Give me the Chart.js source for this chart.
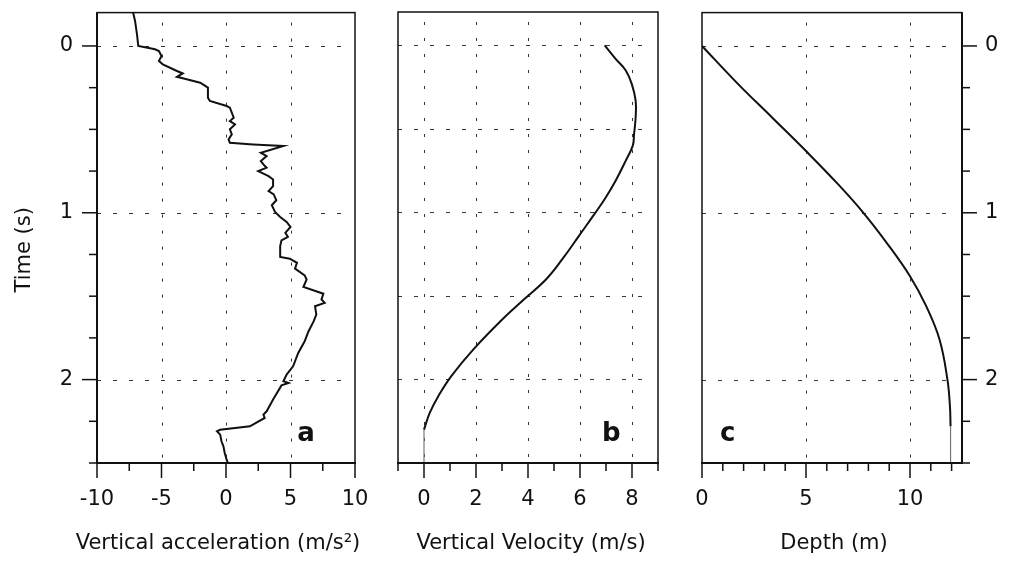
<!DOCTYPE html>
<html>
<head>
<meta charset="utf-8">
<title>Fall record: acceleration, velocity, depth</title>
<script src="https://cdn.jsdelivr.net/npm/chart.js@4.4.1/dist/chart.umd.min.js"></script>
<style>
  html, body { margin: 0; padding: 0; background: #fff; }
  #wrap { position: relative; width: 1010px; height: 562px; overflow: hidden; }
  canvas { position: absolute; top: 0; }
</style>
</head>
<body>
<div id="wrap">
  <canvas id="panelA" width="370" height="562" style="left:0px"></canvas>
  <canvas id="panelB" width="310" height="562" style="left:370px"></canvas>
  <canvas id="panelC" width="330" height="562" style="left:680px"></canvas>
</div>
<script>
// ---- values ----
// panel a: vertical acceleration (m/s2) vs time (s)
const accelTime = [-0.2, -0.15, -0.07, 0, 0.02, 0.03, 0.06, 0.09, 0.11, 0.15, 0.165, 0.185, 0.2, 0.22,
  0.25, 0.31, 0.33, 0.36, 0.37, 0.43, 0.45, 0.47, 0.5, 0.53, 0.56, 0.58, 0.59, 0.6, 0.64, 0.66,
  0.69, 0.71, 0.73, 0.75, 0.78, 0.8, 0.84, 0.87, 0.89, 0.925, 0.955, 0.995, 1.025, 1.055, 1.085,
  1.12, 1.145, 1.165, 1.2, 1.265, 1.275, 1.3, 1.335, 1.375, 1.4, 1.445, 1.485, 1.52, 1.54, 1.56,
  1.61, 1.65, 1.71, 1.77, 1.84, 1.92, 1.97, 2.01, 2.02, 2.035, 2.12, 2.19, 2.21, 2.23, 2.28,
  2.3, 2.31, 2.33, 2.37, 2.4, 2.44, 2.48, 2.5];
const accelValue = [-7.2, -7.05, -6.9, -6.8, -5.5, -5.2, -5.0, -5.2, -4.9, -3.8, -3.35, -3.8, -3.05, -2.0,
  -1.4, -1.4, -1.25, 0.05, 0.3, 0.6, 0.3, 0.7, 0.3, 0.45, 0.2, 0.3, 2.1, 4.45, 2.7, 3.15,
  2.7, 2.9, 3.15, 2.5, 3.3, 3.65, 3.65, 3.3, 3.7, 3.9, 3.55, 3.8, 4.2, 4.7, 5.0,
  4.6, 4.8, 4.3, 4.2, 4.2, 4.95, 5.5, 5.35, 6.1, 6.25, 6.0, 7.55, 7.4, 7.65, 6.9,
  7.0, 6.8, 6.4, 6.1, 5.6, 5.2, 4.7, 4.45, 4.85, 4.3, 3.65, 3.15, 2.9, 3.0, 1.85,
  -0.45, -0.7, -0.45, -0.35, -0.2, -0.1, 0.05, 0.15];

// panel b: vertical velocity (m/s) vs time (s)
const velTime = [0, 0.08, 0.15, 0.23, 0.33, 0.43, 0.53, 0.6, 0.69, 0.81, 0.91, 1.0, 1.14, 1.28,
  1.4, 1.52, 1.65, 1.82, 1.98, 2.1, 2.2, 2.3];
const velValue = [6.95, 7.37, 7.76, 7.99, 8.14, 8.14, 8.08, 8.03, 7.76, 7.37, 6.99, 6.6, 5.96, 5.32,
  4.7, 3.85, 2.95, 1.9, 1.05, 0.55, 0.22, 0.0];
const velTailTime = [2.3, 2.5];
const velTailValue = [0, 0];

// panel c: depth (m) vs time (s)
const depthTime = [0, 0.23, 0.43, 0.63, 0.83, 1.0, 1.18, 1.38, 1.56, 1.76, 2.0, 2.16, 2.28];
const depthValue = [0, 1.75, 3.38, 5.0, 6.55, 7.76, 8.88, 10.0, 10.78, 11.42, 11.8, 11.92, 11.95];
const depthTailTime = [2.28, 2.5];
const depthTailValue = [11.95, 11.95];

// tick labels, minor ticks and grid positions
const timeTicks = [0, 1, 2];
const timeMinor = [0.25, 0.5, 0.75, 1.25, 1.5, 1.75, 2.25, 2.5];
const timeGridB = [0, 0.5, 1, 1.5, 2];
const accelTicks = [-10, -5, 0, 5, 10];
const accelMinor = [-7.5, -2.5, 2.5, 7.5];
const accelGrid = [-5, 0, 5];
const velTicks = [0, 2, 4, 6, 8];
const velMinor = [-1, 1, 3, 5, 7, 9];
const depthTicks = [0, 5, 10];
const depthMinor = [1, 2, 3, 4, 6, 7, 8, 9, 11, 12];
const depthGrid = [5, 10];

const FONT = "'DejaVu Sans', sans-serif";
Chart.defaults.font.family = FONT;
Chart.defaults.font.size = 21;
Chart.defaults.color = '#111';

// turn (time, value) lists into points with time on the vertical axis
function toPoints(times, values) {
  return times.map((t, i) => ({ x: values[i], y: t }));
}

function lineSet(times, values, tension, color, width) {
  return {
    data: toPoints(times, values),
    showLine: true,
    borderColor: color,
    borderWidth: width,
    pointRadius: 0,
    tension: tension,
    fill: false
  };
}

// dotted grid, box frame, major/minor tick marks, axis titles and panel letter
const framePlugin = {
  id: 'frame',
  beforeDatasetsDraw(chart, args, o) {
    const { ctx, chartArea: a, scales: { x, y } } = chart;
    ctx.save();
    ctx.strokeStyle = '#333';
    ctx.lineWidth = 1;
    ctx.setLineDash([3, 13]);
    o.gridX.forEach(v => {
      const px = Math.round(x.getPixelForValue(v)) + 0.5;
      ctx.beginPath(); ctx.moveTo(px, a.top + 10); ctx.lineTo(px, a.bottom); ctx.stroke();
    });
    ctx.setLineDash([4, 12]);
    o.gridY.forEach(v => {
      const py = Math.round(y.getPixelForValue(v)) + 0.5;
      ctx.beginPath(); ctx.moveTo(a.left, py); ctx.lineTo(a.right - 8, py); ctx.stroke();
    });
    ctx.restore();
  },
  afterDraw(chart, args, o) {
    const { ctx, chartArea: a, scales: { x, y } } = chart;
    ctx.save();
    ctx.strokeStyle = '#111';
    ctx.lineWidth = 1.5;
    ctx.strokeRect(a.left, a.top, a.width, a.height);

    // heavier axis lines
    ctx.lineWidth = 2;
    ctx.beginPath(); ctx.moveTo(a.left - 1, a.bottom); ctx.lineTo(a.right + 1, a.bottom); ctx.stroke();
    if (o.ySide) {
      const sx = o.ySide === 'right' ? a.right : a.left;
      ctx.beginPath(); ctx.moveTo(sx, a.top); ctx.lineTo(sx, a.bottom); ctx.stroke();
    }

    // tick marks
    ctx.lineWidth = 1.5;
    const tickX = (vals, len) => vals.forEach(v => {
      const px = x.getPixelForValue(v);
      ctx.beginPath(); ctx.moveTo(px, a.bottom); ctx.lineTo(px, a.bottom + len); ctx.stroke();
    });
    tickX(o.majorX, 15);
    tickX(o.minorX, 8);
    if (o.ySide) {
      const sx = o.ySide === 'right' ? a.right : a.left;
      const dir = o.ySide === 'right' ? 1 : -1;
      const tickY = (vals, len) => vals.forEach(v => {
        const py = y.getPixelForValue(v);
        ctx.beginPath(); ctx.moveTo(sx, py); ctx.lineTo(sx + dir * len, py); ctx.stroke();
      });
      tickY(timeTicks, 15);
      tickY(timeMinor, 8);
    }

    ctx.fillStyle = '#111';
    ctx.textAlign = 'center';
    ctx.textBaseline = 'alphabetic';

    // x title (drawn here so it is not squeezed to the plot width)
    ctx.font = '21px ' + FONT;
    ctx.fillText(o.xTitle, (a.left + a.right) / 2 + o.xTitleShift, a.bottom + 86);

    // panel letter
    ctx.font = 'bold 26px ' + FONT;
    ctx.fillText(o.letter, x.getPixelForValue(o.letterAt[0]), y.getPixelForValue(o.letterAt[1]));

    // rotated time title, a little below the axis middle as in the original
    if (o.yTitle) {
      ctx.font = '21px ' + FONT;
      ctx.translate(30, (a.top + a.bottom) / 2 + 12);
      ctx.rotate(-Math.PI / 2);
      ctx.fillText(o.yTitle, 0, 0);
    }
    ctx.restore();
  }
};

// invisible tick marks are used only to push the labels away from the axis
function labelGap(len) {
  return { display: true, drawOnChartArea: false, drawTicks: true, tickLength: len, tickColor: 'rgba(0,0,0,0)' };
}

function xAxis(min, max, ticks) {
  return {
    type: 'linear',
    position: 'bottom',
    min: min,
    max: max,
    grid: labelGap(24),
    border: { display: false },
    ticks: { padding: 0, maxRotation: 0, autoSkip: false },
    afterBuildTicks: s => { s.ticks = ticks.map(v => ({ value: v })); },
    afterFit: s => { s.height = 99; }
  };
}

function timeAxis(position, show, width) {
  return {
    type: 'linear',
    position: position,
    display: show,
    reverse: true,
    min: -0.2,
    max: 2.5,
    grid: labelGap(position === 'right' ? 23 : 24),
    border: { display: false },
    ticks: { padding: 0 },
    afterBuildTicks: s => { s.ticks = timeTicks.map(v => ({ value: v })); },
    afterFit: s => { s.width = width; }
  };
}

function panel(id, datasets, xOpts, yOpts, padding, frame) {
  return new Chart(document.getElementById(id), {
    type: 'scatter',
    data: { datasets: datasets },
    options: {
      responsive: false,
      animation: false,
      layout: { padding: padding },
      plugins: { legend: { display: false }, tooltip: { enabled: false }, frame: frame },
      scales: { x: xOpts, y: yOpts }
    },
    plugins: [framePlugin]
  });
}

// panel a
panel('panelA',
  [lineSet(accelTime, accelValue, 0, '#111', 2)],
  xAxis(-10, 10, accelTicks),
  timeAxis('left', true, 97),
  { top: 12, right: 15, left: 0, bottom: 0 },
  { gridX: accelGrid, gridY: timeTicks, majorX: accelTicks, minorX: accelMinor,
    ySide: 'left', letter: 'a', letterAt: [6.2, 2.37], yTitle: 'Time (s)',
    xTitle: 'Vertical acceleration (m/s²)', xTitleShift: -8 });

// panel b
panel('panelB',
  [lineSet(velTime, velValue, 0.4, '#111', 2), lineSet(velTailTime, velTailValue, 0, '#777', 1.2)],
  xAxis(-1, 9, velTicks),
  timeAxis('left', false, 0),
  { top: 12, right: 22, left: 28, bottom: 0 },
  { gridX: velTicks, gridY: timeGridB, majorX: velTicks, minorX: velMinor,
    ySide: null, letter: 'b', letterAt: [7.2, 2.37],
    xTitle: 'Vertical Velocity (m/s)', xTitleShift: 3 });

// panel c
panel('panelC',
  [lineSet(depthTime, depthValue, 0.4, '#111', 2), lineSet(depthTailTime, depthTailValue, 0, '#777', 1.2)],
  xAxis(0, 12.5, depthTicks),
  timeAxis('right', true, 48),
  { top: 12, right: 0, left: 22, bottom: 0 },
  { gridX: depthGrid, gridY: timeTicks, majorX: depthTicks, minorX: depthMinor,
    ySide: 'right', letter: 'c', letterAt: [1.23, 2.37],
    xTitle: 'Depth (m)', xTitleShift: 2 });
</script>
</body>
</html>
